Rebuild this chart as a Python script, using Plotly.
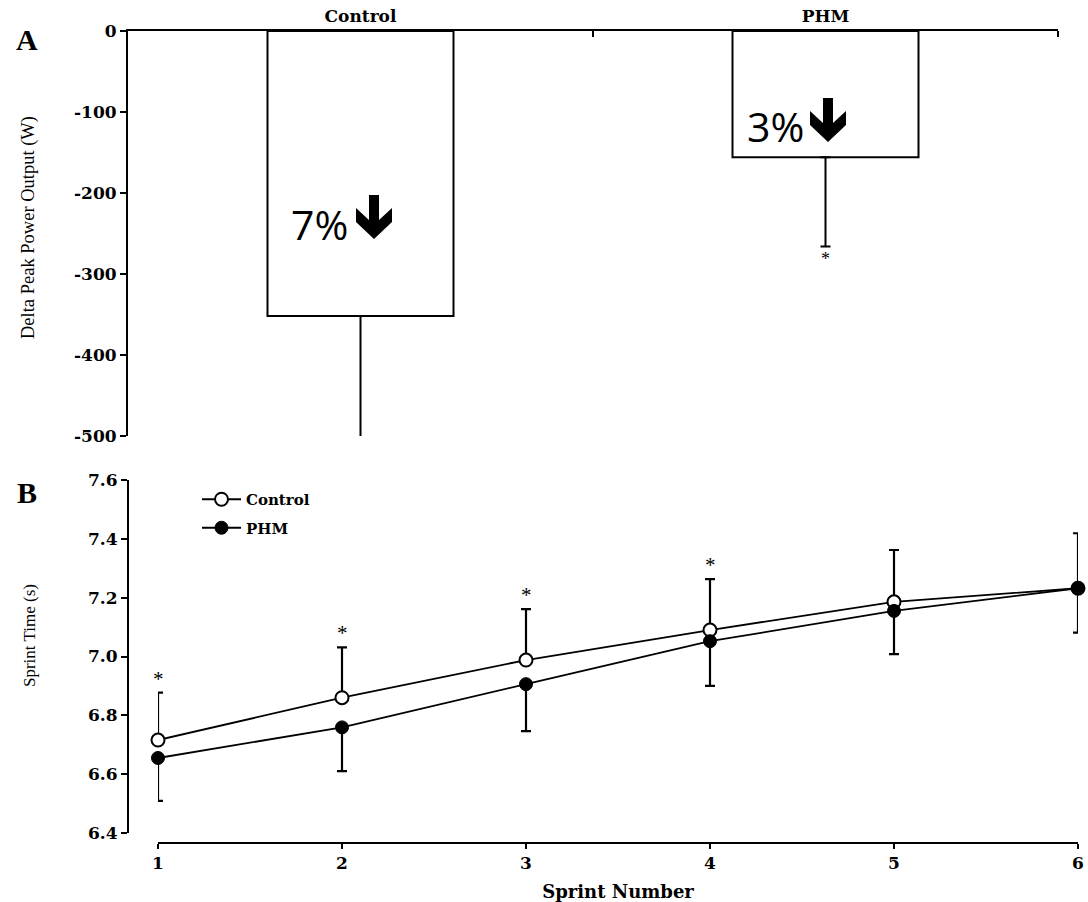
import plotly.graph_objects as go

W, H = 1088, 902

# ---------- Data: panel A ----------
groups = ["Control", "PHM"]
delta_power = [-352, -156]          # W
delta_power_sd = [184, 110]         # lower error (W)
pct_labels = ["7%", "3%"]
a_yticks = [0, -100, -200, -300, -400, -500]

# ---------- Data: panel B ----------
sprints = [1, 2, 3, 4, 5, 6]
control_time = [6.716, 6.860, 6.988, 7.090, 7.186, 7.232]
control_sd = [0.161, 0.171, 0.173, 0.173, 0.176, 0.187]
phm_time = [6.655, 6.759, 6.906, 7.052, 7.155, 7.232]
phm_sd = [0.146, 0.149, 0.160, 0.152, 0.147, 0.151]
sig_sprints = [1, 2, 3, 4]
b_yticks = [6.4, 6.6, 6.8, 7.0, 7.2, 7.4, 7.6]


def px(x):
    return x / W


def py(y):
    return 1 - y / H


SERIF = "Liberation Serif"
BOLDSERIF = "DejaVu Serif"
BLACK = "black"

fig = go.Figure()

# Panel A bars
fig.add_trace(go.Bar(
    x=[0, 1], y=delta_power, width=0.4,
    marker=dict(color="white", line=dict(color=BLACK, width=2)),
    error_y=dict(type="data", symmetric=False, array=[0, 0], arrayminus=delta_power_sd,
                 color=BLACK, thickness=2, width=5),
    cliponaxis=False, showlegend=False, xaxis="x", yaxis="y",
))

# Panel B lines
fig.add_trace(go.Scatter(
    x=sprints, y=control_time, mode="lines+markers", name="Control",
    legendgroup="c",
    line=dict(color=BLACK, width=1.8),
    marker=dict(symbol="circle", size=13, color="white", line=dict(color=BLACK, width=2)),
    error_y=dict(type="data", symmetric=False, array=control_sd, arrayminus=[0] * 6,
                 color=BLACK, thickness=2.2, width=5),
    cliponaxis=False, xaxis="x2", yaxis="y2",
))
fig.add_trace(go.Scatter(
    x=sprints, y=phm_time, mode="lines+markers", name="PHM",
    legendgroup="p",
    line=dict(color=BLACK, width=1.8),
    marker=dict(symbol="circle", size=13, color=BLACK, line=dict(color=BLACK, width=1)),
    error_y=dict(type="data", symmetric=False, array=[0] * 6, arrayminus=phm_sd,
                 color=BLACK, thickness=2.2, width=5),
    cliponaxis=False, xaxis="x2", yaxis="y2",
))

tickfont = dict(family=BOLDSERIF, size=17, color=BLACK, weight="bold")

fig.update_layout(
    template="none",
    width=W, height=H, autosize=False,
    margin=dict(l=0, r=0, t=0, b=0, pad=0),
    paper_bgcolor="white", plot_bgcolor="white",
    showlegend=True,
    legend=dict(x=px(197), y=py(483), xanchor="left", yanchor="top",
                font=dict(family=BOLDSERIF, size=15, color=BLACK, weight="bold"),
                tracegroupgap=6, bgcolor="rgba(0,0,0,0)", itemwidth=39),
    xaxis=dict(domain=[px(128), px(1058)], range=[-0.5, 1.5], side="top", automargin=False,
               anchor="y", tickvals=[0, 1], ticktext=groups, ticks="",
               tickfont=dict(family=BOLDSERIF, size=17, color=BLACK, weight="bold"),
               showline=True, linecolor=BLACK, linewidth=2, showgrid=False, zeroline=False,
               minor=dict(tickmode="array", tickvals=[0.5, 1.5], ticks="inside",
                          ticklen=6, tickwidth=2, tickcolor=BLACK, showgrid=False)),
    yaxis=dict(domain=[py(436), py(31)], range=[-500, 0], anchor="x", automargin=False,
               tickvals=a_yticks, ticktext=[str(v) for v in a_yticks],
               ticks="outside", ticklen=6, tickwidth=2, tickcolor=BLACK,
               tickfont=tickfont, showline=True, linecolor=BLACK, linewidth=2,
               showgrid=False, zeroline=False),
    xaxis2=dict(domain=[px(158), px(1078)], range=[1, 6], anchor="free", position=py(843),
                automargin=False,
                tickvals=sprints, ticktext=[str(s) for s in sprints],
                ticks="outside", ticklen=5, tickwidth=2, tickcolor=BLACK,
                tickfont=tickfont,
                showline=True, linecolor=BLACK, linewidth=2, showgrid=False, zeroline=False,
                title=dict(text="Sprint Number", standoff=12,
                           font=dict(family=BOLDSERIF, size=18, color=BLACK, weight="bold"))),
    yaxis2=dict(domain=[py(833), py(480)], range=[6.4, 7.6], anchor="free", position=px(128),
                automargin=False,
                tickvals=b_yticks, ticktext=[f"{v:.1f}" for v in b_yticks],
                ticks="outside", ticklen=6, tickwidth=2, tickcolor=BLACK,
                tickfont=tickfont, showline=True, linecolor=BLACK, linewidth=2,
                showgrid=False, zeroline=False),
)

annotations = [
    dict(text="<b>A</b>", x=px(27), y=py(40), xref="paper", yref="paper",
         xanchor="center", yanchor="middle",
         showarrow=False, font=dict(family=SERIF, size=30, color=BLACK)),
    dict(text="<b>B</b>", x=px(27), y=py(493), xref="paper", yref="paper",
         xanchor="center", yanchor="middle",
         showarrow=False, font=dict(family=SERIF, size=30, color=BLACK)),
    dict(text="Delta Peak Power Output (W)", x=px(29), y=py(228), xref="paper", yref="paper",
         xanchor="center", yanchor="middle",
         textangle=-90, showarrow=False, font=dict(family=SERIF, size=18.5, color=BLACK)),
    dict(text="Sprint Time (s)", x=px(29), y=py(636), xref="paper", yref="paper",
         xanchor="center", yanchor="middle",
         textangle=-90, showarrow=False, font=dict(family=SERIF, size=17, color=BLACK)),
    # percentage labels in bars
    dict(text=pct_labels[0], x=px(350), y=py(224), xref="paper", yref="paper",
         xanchor="right", yanchor="middle",
         showarrow=False, font=dict(family="Open Sans", size=41, color=BLACK)),
    dict(text=pct_labels[1], x=px(806), y=py(126), xref="paper", yref="paper",
         xanchor="right", yanchor="middle",
         showarrow=False, font=dict(family="Open Sans", size=41, color=BLACK)),
    # asterisk in panel A
    dict(text="*", x=1, y=delta_power[1] - delta_power_sd[1], xref="x", yref="y",
         yanchor="top", yshift=-1, showarrow=False,
         font=dict(family=SERIF, size=18, color=BLACK)),
]
for s in sig_sprints:
    i = sprints.index(s)
    annotations.append(dict(text="*", x=s, y=control_time[i] + control_sd[i], xref="x2", yref="y2",
                            yanchor="bottom", yshift=0, showarrow=False,
                            font=dict(family=SERIF, size=21, color=BLACK)))
fig.update_layout(annotations=annotations)


def arrow_path(x0, y0):
    pts = [(13, 0), (23, 0), (23, 25), (36, 13), (36, 27), (18, 44), (0, 27), (0, 13), (13, 25)]
    return "M " + " L ".join(f"{px(x0 + a):.5f},{py(y0 + b):.5f}" for a, b in pts) + " Z"


shapes = [
    dict(type="path", path=arrow_path(356, 195), xref="paper", yref="paper",
         fillcolor=BLACK, line=dict(width=0)),
    dict(type="path", path=arrow_path(810, 98), xref="paper", yref="paper",
         fillcolor=BLACK, line=dict(width=0)),
]
fig.update_layout(shapes=shapes)

fig.write_html("out.html", config={"displayModeBar": False},
               post_script="document.body.style.margin='0px';document.body.style.overflow='hidden';")
